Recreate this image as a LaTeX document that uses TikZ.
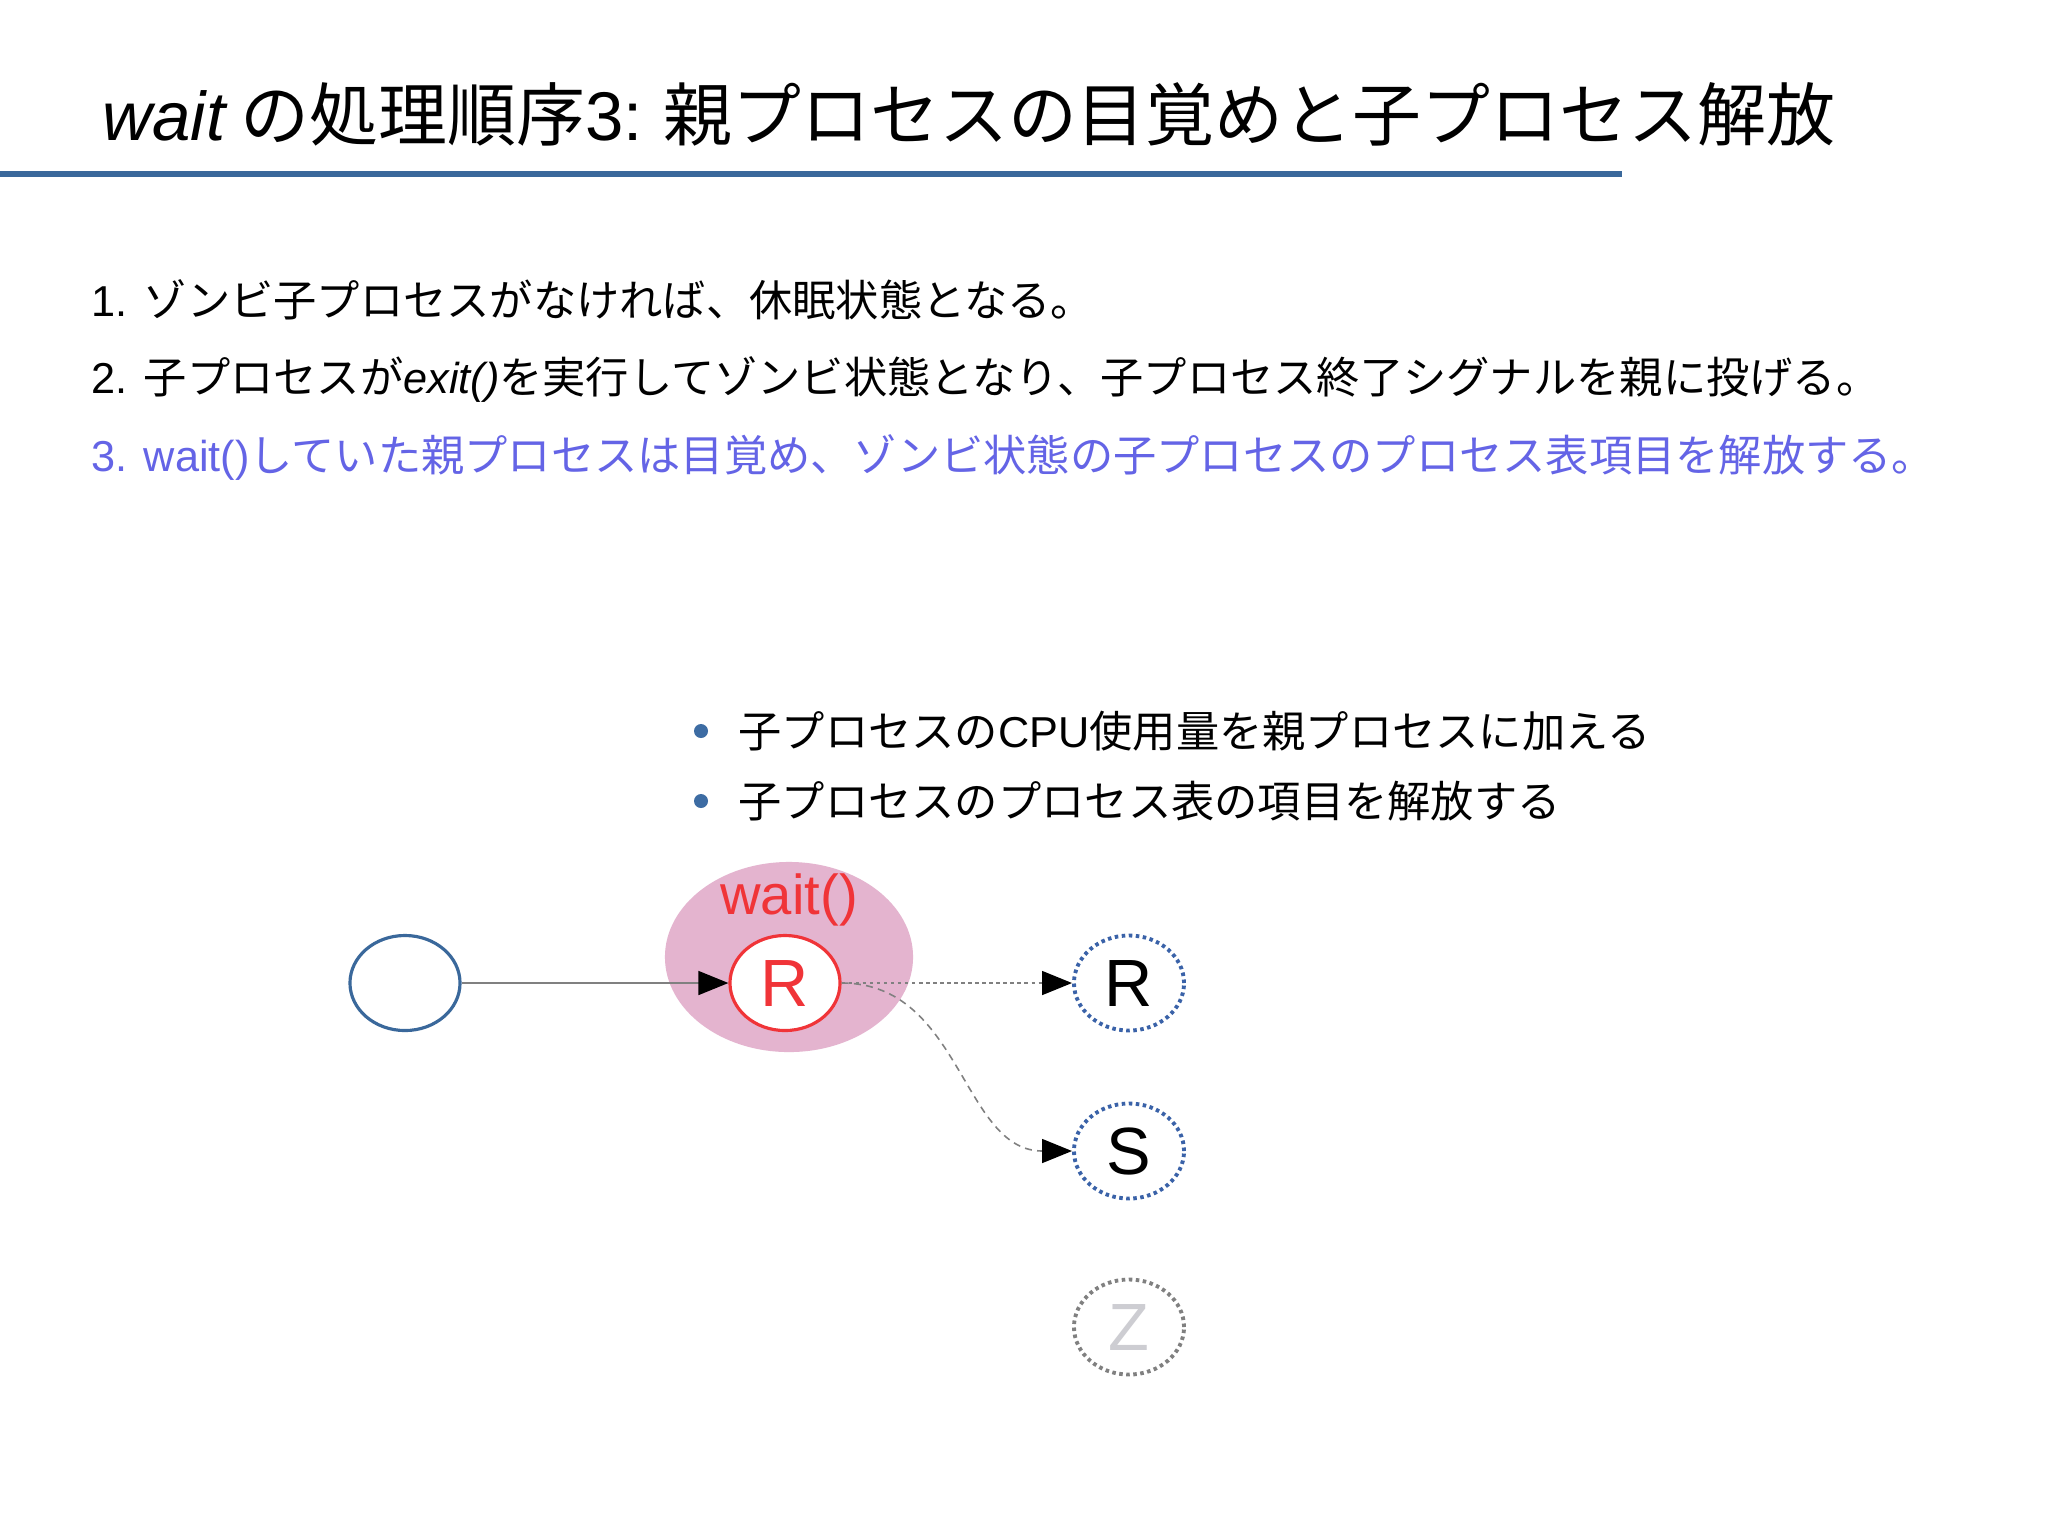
\documentclass[tikz,border=0pt]{standalone}
\usepackage{fontspec}
\setmainfont{Noto Sans CJK JP}
\newfontfamily\lat{Liberation Sans}
\usetikzlibrary{arrows.meta,shapes.geometric}
\definecolor{barblue}{RGB}{58,104,155}
\definecolor{stepblue}{RGB}{100,100,230}
\definecolor{dotblue}{RGB}{58,98,168}
\definecolor{bulletblue}{RGB}{61,108,163}
\definecolor{waitpink}{RGB}{228,180,207}
\definecolor{waitred}{RGB}{240,52,56}
\definecolor{zgray}{RGB}{205,205,210}
\tikzset{proc/.style = {shape=ellipse,line width=0.9pt,minimum width=1.1cm,minimum height=0.95cm,inner sep=0pt,font=\lat\fontsize{19}{22}\selectfont}}
\tikzset{child/.style = {proc,draw=dotblue,line width=1.1pt,dash pattern=on 1pt off 1pt}}
\tikzset{flow/.style = {-{Triangle[length=0.3cm,width=0.24cm,color=black]},draw=gray,line width=0.45pt}}
\tikzset{stepline/.style = {anchor=west,inner sep=0pt,font=\fontsize{12.3}{14}\selectfont}}
\tikzset{bullet/.style = {anchor=west,inner sep=0pt,font=\fontsize{12.3}{14}\selectfont}}

\begin{document}
\begin{tikzpicture}[x=0.01cm,y=-0.01cm]
  \useasboundingbox[fill=white] (0,0) rectangle (2048,1535);

  % title
  \node[anchor=west,inner sep=0pt,font=\fontsize{19.6}{24}\selectfont] (title) at (102,114)
    {{\lat\itshape wait} の処理順序{\lat 3:} 親プロセスの目覚めと子プロセス解放};
  \draw[barblue,line width=1.9pt] (0,174) -- (1622,174);

  % steps
  \node[stepline] (s1) at (91,300) {{\lat 1. }ゾンビ子プロセスがなければ、休眠状態となる。};
  \node[stepline] (s2) at (91,379) {{\lat 2. }子プロセスが{\lat\itshape exit()}を実行してゾンビ状態となり、子プロセス終了シグナルを親に投げる。};
  \node[stepline,text=stepblue] (s3) at (91,457) {{\lat 3. wait()}していた親プロセスは目覚め、ゾンビ状態の子プロセスのプロセス表項目を解放する。};

  % notes
  \fill[bulletblue] (701,731) circle (7);
  \fill[bulletblue] (701,801) circle (7);
  \node[bullet] (b1) at (738,731) {子プロセスの{\lat CPU}使用量を親プロセスに加える};
  \node[bullet] (b2) at (738,801) {子プロセスのプロセス表の項目を解放する};

  % processes
  \node[shape=ellipse,fill=waitpink,minimum width=2.48cm,minimum height=1.9cm] (bg) at (789,957) {};
  \node[text=waitred,font=\lat\fontsize{16}{18}\selectfont] (waitlbl) at (789,900) {wait()};
  \node[proc,draw=barblue] (p) at (405,983) {};
  \node[proc,draw=waitred,fill=white,text=waitred] (r) at (785,983) {R};
  \node[child] (c1) at (1129,983) {R};
  \node[child] (c2) at (1129,1151) {S};
  \node[proc,draw=gray,line width=1.1pt,dash pattern=on 1pt off 1pt,text=zgray] (c3) at (1129,1327) {Z};

  \path[flow] (p) edge (r);
  \path[flow,dash pattern=on 1pt off 1pt] (r) edge (c1);
  \draw[flow,dash pattern=on 2pt off 1.5pt] (r.east) .. controls +(120,0) and +(-110,0) .. (c2.west);
\end{tikzpicture}
\end{document}
